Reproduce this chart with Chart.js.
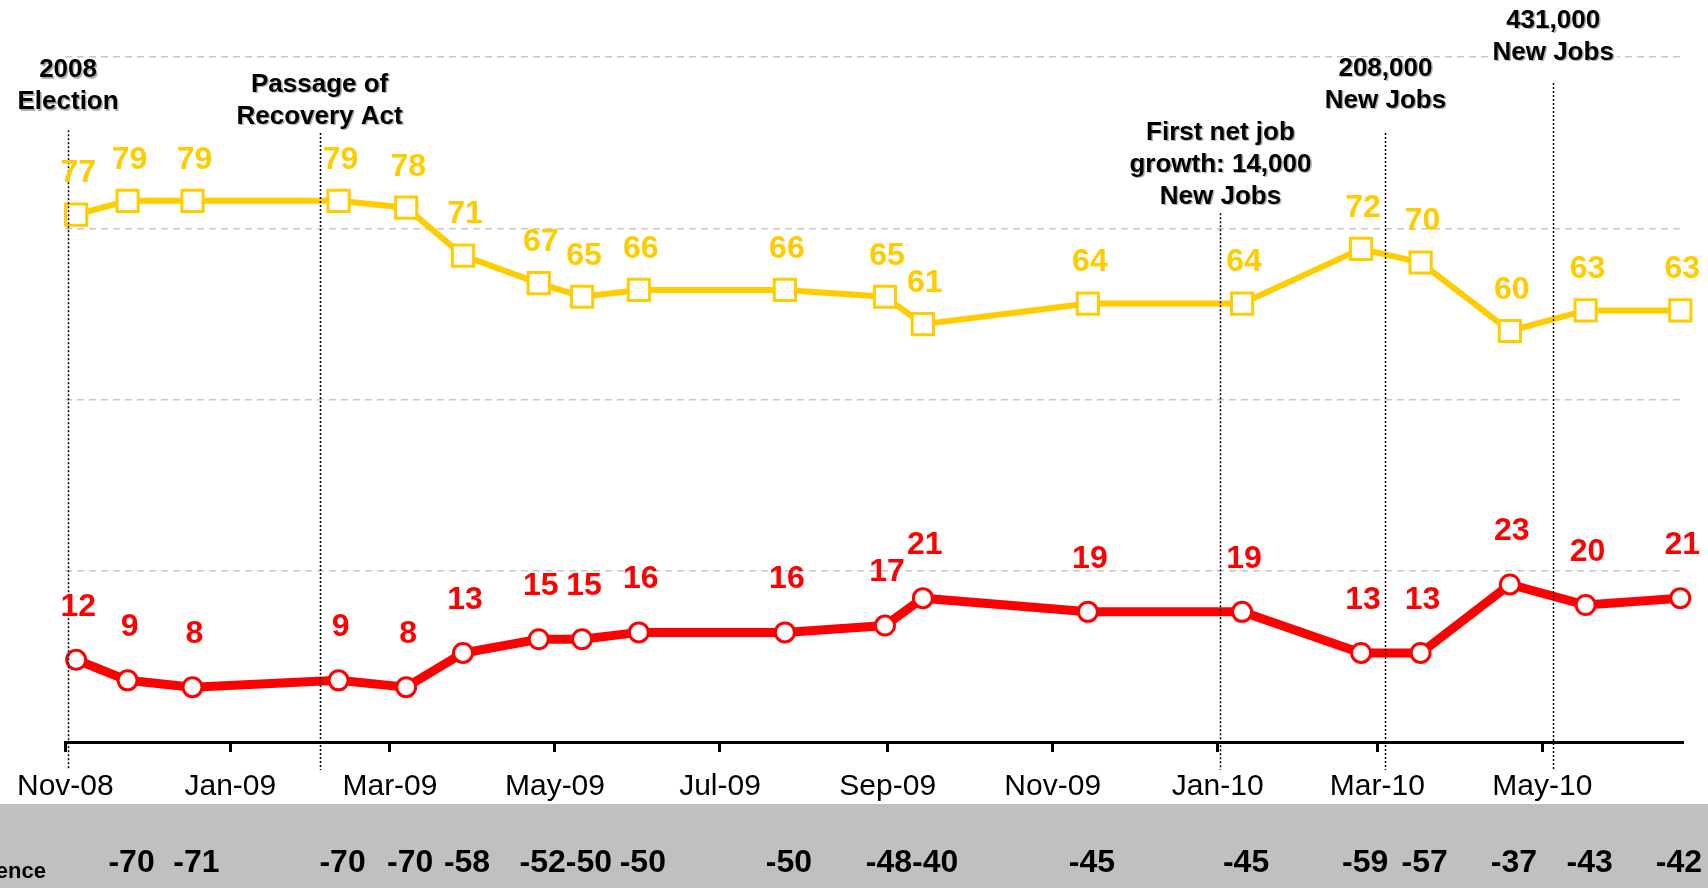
<!DOCTYPE html>
<html lang="en">

<head>
    <meta charset="UTF-8">
    <title>Poll trend</title>
    <script src="https://cdn.jsdelivr.net/npm/chart.js"></script>
    <style>
        body {
            margin: 0;
            overflow: hidden;
            background: #fff;
        }

        #chart {
            display: block;
        }
    </style>
</head>

<body>
    <canvas id="chart" width="1708" height="888"></canvas>

    <script>
        // poll dates and values
        const pollDates = ['2008-11-05', '2008-11-24', '2008-12-18', '2009-02-10', '2009-03-07', '2009-03-28',
            '2009-04-25', '2009-05-11', '2009-06-01', '2009-07-25', '2009-08-31', '2009-09-14', '2009-11-14',
            '2010-01-10', '2010-02-23', '2010-03-17', '2010-04-19', '2010-05-17', '2010-06-21'];
        const yellowValues = [77, 79, 79, 79, 78, 71, 67, 65, 66, 66, 65, 61, 64, 64, 72, 70, 60, 63, 63];
        const redValues = [12, 9, 8, 9, 8, 13, 15, 15, 16, 16, 17, 21, 19, 19, 13, 13, 23, 20, 21];
        const netValues = [null, -70, -71, -70, -70, -58, -52, -50, -50, -50, -48, -40, -45, -45, -59, -57, -37, -43, -42];

        const monthTicks = ['2008-11-01', '2009-01-01', '2009-03-01', '2009-05-01', '2009-07-01', '2009-09-01',
            '2009-11-01', '2010-01-01', '2010-03-01', '2010-05-01'];
        const monthLabels = ['Nov-08', 'Jan-09', 'Mar-09', 'May-09', 'Jul-09', 'Sep-09', 'Nov-09', 'Jan-10', 'Mar-10', 'May-10'];
        const axisStart = '2008-11-01';
        const axisEnd = '2010-06-22';

        // events marked with dotted lines
        const eventDates = ['2008-11-02', '2009-02-03', '2010-01-02', '2010-03-04', '2010-05-05'];
        const eventLabels = [
            ['2008', 'Election'],
            ['Passage of', 'Recovery Act'],
            ['First net job', 'growth: 14,000', 'New Jobs'],
            ['208,000', 'New Jobs'],
            ['431,000', 'New Jobs']
        ];
        const eventLineTop = [89.3, 88.9, 77.2, 88.9, 96.2];
        const eventTextTop = [98.1, 96.0, 89.0, 98.3, 105.3];

        const FONT = "'Liberation Sans', Arial, sans-serif";

        function dayOf(s) {
            const p = s.split('-').map(Number);
            return (Date.UTC(p[0], p[1] - 1, p[2]) - Date.UTC(2008, 10, 1)) / 864e5;
        }

        const annotate = {
            id: 'annotate',
            beforeDraw(chart) {
                const ctx = chart.ctx;
                ctx.save();
                ctx.fillStyle = '#c0c0c0';
                ctx.fillRect(0, 804, chart.width, chart.height - 804);
                ctx.restore();
            },
            afterDatasetsDraw(chart) {
                const { ctx, scales: { x, y } } = chart;
                ctx.save();

                // dotted event lines
                ctx.setLineDash([2, 2]);
                ctx.lineWidth = 1.5;
                ctx.strokeStyle = '#000';
                eventDates.forEach((d, i) => {
                    const px = Math.round(x.getPixelForValue(dayOf(d))) + 0.5;
                    ctx.beginPath();
                    ctx.moveTo(px, y.getPixelForValue(eventLineTop[i]));
                    ctx.lineTo(px, y.bottom + 28);
                    ctx.stroke();
                });
                ctx.setLineDash([]);

                // value labels above points
                ctx.font = 'bold 32px ' + FONT;
                ctx.textAlign = 'center';
                ctx.textBaseline = 'middle';
                chart.data.datasets.forEach((ds, i) => {
                    ctx.fillStyle = ds.borderColor;
                    chart.getDatasetMeta(i).data.forEach((pt, j) => {
                        ctx.fillText(ds.data[j].y, pt.x + 2, pt.y - ds.labelOffset);
                    });
                });

                // event captions
                ctx.font = 'bold 26px ' + FONT;
                eventLabels.forEach((lines, i) => {
                    const cx = x.getPixelForValue(dayOf(eventDates[i]));
                    const top = y.getPixelForValue(eventTextTop[i]);
                    lines.forEach((t, k) => {
                        const cy = top + k * 32;
                        const w = ctx.measureText(t).width;
                        ctx.fillStyle = '#fff';
                        ctx.fillRect(cx - w / 2 - 3, cy - 11, w + 6, 22);
                    });
                    ctx.shadowColor = 'rgba(0,0,0,0.3)';
                    ctx.shadowOffsetX = 1.5;
                    ctx.shadowOffsetY = 1.5;
                    ctx.fillStyle = '#000';
                    lines.forEach((t, k) => ctx.fillText(t, cx, top + k * 32));
                    ctx.shadowColor = 'rgba(0,0,0,0)';
                });
                ctx.restore();
            },
            afterDraw(chart) {
                const { ctx, scales: { x } } = chart;
                ctx.save();
                ctx.fillStyle = '#000';
                ctx.font = 'bold 32px ' + FONT;
                ctx.textAlign = 'center';
                ctx.textBaseline = 'middle';
                // net difference row, pushed right when two values would collide
                let prevRight = -Infinity;
                netValues.forEach((v, j) => {
                    if (v === null) return;
                    const w = ctx.measureText(String(v)).width;
                    let cx = x.getPixelForValue(dayOf(pollDates[j])) + 4;
                    cx = Math.max(cx, prevRight + w / 2);
                    cx = Math.min(cx, chart.width - 6 - w / 2);
                    ctx.fillText(v, cx, 863);
                    prevRight = cx + w / 2;
                });
                ctx.font = 'bold 22px ' + FONT;
                ctx.textAlign = 'right';
                ctx.textBaseline = 'alphabetic';
                ctx.fillText('Net Difference', 46, 878);
                ctx.restore();
            }
        };

        new Chart(document.getElementById('chart').getContext('2d'), {
            type: 'line',
            data: {
                datasets: [{
                    label: 'Yellow series',
                    data: pollDates.map((d, i) => ({ x: dayOf(d), y: yellowValues[i] })),
                    borderColor: '#ffcc00',
                    borderWidth: 6,
                    pointStyle: 'rect',
                    pointRadius: 15,
                    pointBorderWidth: 3,
                    pointBackgroundColor: '#fff',
                    pointBorderColor: '#ffcc00',
                    labelOffset: 41,
                    clip: false
                }, {
                    label: 'Red series',
                    data: pollDates.map((d, i) => ({ x: dayOf(d), y: redValues[i] })),
                    borderColor: '#ff0000',
                    borderWidth: 9,
                    pointStyle: 'circle',
                    pointRadius: 9.5,
                    pointBorderWidth: 3,
                    pointBackgroundColor: '#fff',
                    pointBorderColor: '#ff0000',
                    labelOffset: 53,
                    clip: false
                }]
            },
            options: {
                responsive: false,
                animation: false,
                devicePixelRatio: 1,
                layout: { padding: { left: 62, right: 25, top: 57, bottom: 0 } },
                plugins: {
                    legend: { display: false },
                    tooltip: { enabled: false }
                },
                scales: {
                    x: {
                        type: 'linear',
                        min: dayOf(axisStart),
                        max: dayOf(axisEnd),
                        afterBuildTicks: s => { s.ticks = monthTicks.map(d => ({ value: dayOf(d) })); },
                        afterFit: s => { s.height = 146; },
                        border: { display: true, color: '#000', width: 3 },
                        grid: { drawOnChartArea: false, drawTicks: true, tickLength: 10, tickColor: '#000', tickWidth: 3 },
                        ticks: {
                            autoSkip: false,
                            maxRotation: 0,
                            padding: 17,
                            color: '#000',
                            font: { family: FONT, size: 30 },
                            callback: (v, i) => monthLabels[i]
                        }
                    },
                    y: {
                        min: 0,
                        max: 100,
                        afterFit: s => { s.width = 0; },
                        border: { display: false, dash: [7, 5] },
                        ticks: { display: false, stepSize: 25 },
                        grid: {
                            drawTicks: false,
                            lineWidth: 1.5,
                            color: c => c.tick && c.tick.value === 0 ? 'rgba(0,0,0,0)' : '#c8c8c8'
                        }
                    }
                }
            },
            plugins: [annotate]
        });
    </script>
</body>

</html>
